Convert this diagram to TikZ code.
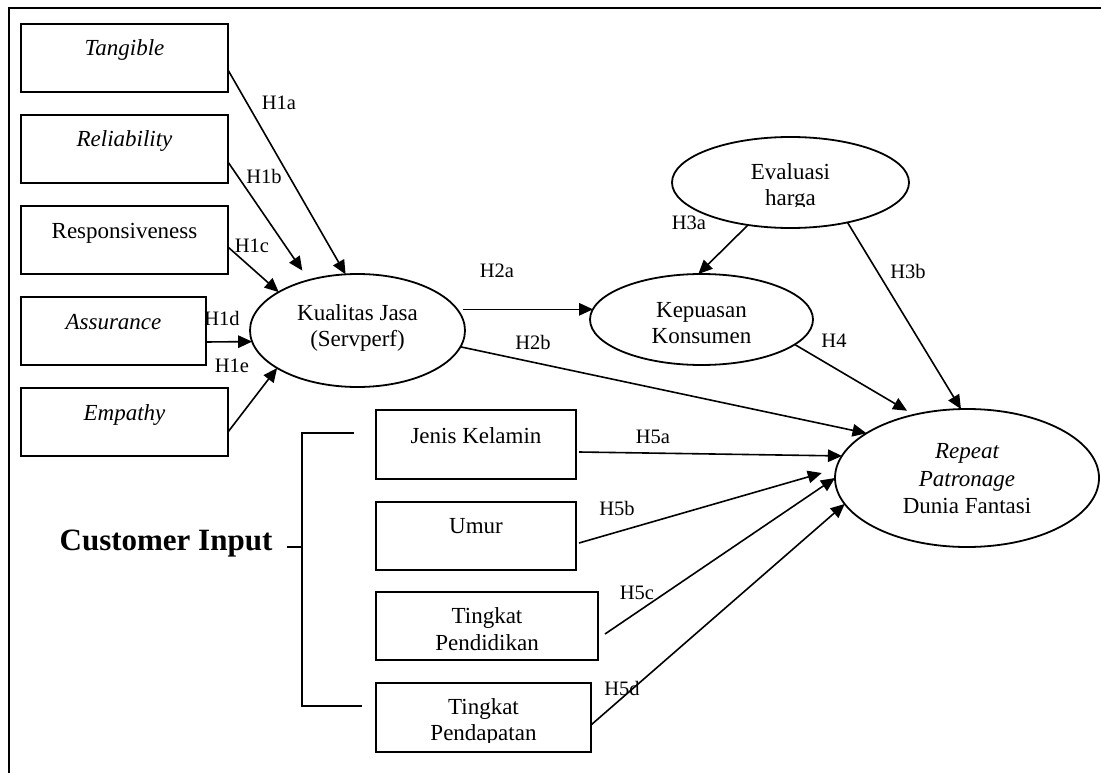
\documentclass[tikz,border=0pt]{standalone}
\usepackage{fontspec}
\setmainfont{Liberation Serif}
\usetikzlibrary{shapes.geometric,arrows.meta}
\begin{document}
\begin{tikzpicture}[x=1pt,y=-1pt,
  txt/.style={font=\fontsize{23}{26}\selectfont, inner sep=0pt, anchor=base},
  itxt/.style={font=\fontsize{23}{26}\selectfont\itshape, inner sep=0pt, anchor=base},
  lab/.style={font=\fontsize{20.5}{24}\selectfont, inner sep=0pt},
  boxs/.style={draw, line width=1.8pt, inner sep=0pt, outer sep=0pt},
  ell/.style={draw, ellipse, line width=1.8pt, inner sep=0pt, outer sep=0pt},
  arr/.style={-{Triangle[length=14pt,width=12.5pt]}, line width=1.6pt},
  brk/.style={line width=1.7pt}]
\useasboundingbox (0,0) rectangle (1101,773);
% frame
\draw[line width=2pt] (8.5,773) -- (8.5,8.5) -- (1101,8.5);

% left boxes
\node[boxs, minimum width=207pt, minimum height=68pt] (tang) at (124.5,58) {};
\node[itxt] (tangt) at (124.5,56) {Tangible};
\node[boxs, minimum width=207pt, minimum height=68pt] (rel) at (124.5,149) {};
\node[itxt] (relt) at (124.5,147) {Reliability};
\node[boxs, minimum width=207pt, minimum height=68pt] (resp) at (124.5,240) {};
\node[txt] (respt) at (124.5,238) {Responsiveness};
\node[boxs, minimum width=185pt, minimum height=68pt] (assur) at (113.5,331) {};
\node[itxt] (assurt) at (113.5,329) {Assurance};
\node[boxs, minimum width=207pt, minimum height=68pt] (emp) at (124.5,422) {};
\node[itxt] (empt) at (124.5,420) {Empathy};

% ellipses
\node[ell, minimum width=215pt, minimum height=113pt] (kual) at (357.5,330.5) {};
\node[txt] (kualt1) at (357.5,320) {Kualitas Jasa};
\node[txt] (kualt2) at (357.5,346) {(Servperf)};
\node[ell, minimum width=223pt, minimum height=91pt] (kep) at (701.5,319.5) {};
\node[txt] (kept1) at (701.5,317) {Kepuasan};
\node[txt] (kept2) at (701.5,343) {Konsumen};
\node[ell, minimum width=237pt, minimum height=91pt] (eval) at (790.5,182.5) {};
\node[txt] (evalt1) at (790.5,179) {Evaluasi};
\begin{scope}
\clip (720,184) rectangle (860,206.5);
\node[txt] (evalt2) at (790.5,205) {harga};
\end{scope}
\node[ell, minimum width=264pt, minimum height=138pt] (rep) at (967,478) {};
\node[itxt] (rept1) at (967,458) {Repeat};
\node[itxt] (rept2) at (967,486) {Patronage};
\node[txt] (rept3) at (967,513) {Dunia Fantasi};

% bottom boxes
\node[boxs, minimum width=200pt, minimum height=69pt] (jk) at (476,444.5) {};
\node[txt] (jkt) at (476,443) {Jenis Kelamin};
\node[boxs, minimum width=200pt, minimum height=68pt] (umur) at (476,536) {};
\node[txt] (umurt) at (476,533) {Umur};
\node[boxs, minimum width=222pt, minimum height=68pt] (pend) at (487,626) {};
\node[txt] (pendt1) at (487,623) {Tingkat};
\node[txt] (pendt2) at (487,650) {Pendidikan};
\node[boxs, minimum width=215pt, minimum height=69pt] (pdpt) at (483.5,717.5) {};
\node[txt] (pdptt1) at (483.5,714) {Tingkat};
\begin{scope}
\clip (400,720) rectangle (570,742);
\node[txt] (pdptt2) at (483.5,740) {Pendapatan};
\end{scope}

% bracket and customer input
\draw[brk] (354,433) -- (302,433) -- (302,706) -- (362,706);
\draw[brk] (287,547) -- (302,547);
\node[font=\fontsize{31}{36}\selectfont\bfseries, inner sep=0pt, anchor=base] (cust) at (166,550) {Customer Input};

% connectors
\coordinate (h2s) at ([xshift=6pt]kual.12.2);
\draw[arr] ([yshift=-12pt]tang.east) -- (kual.102.3);
\draw[arr, shorten >=11.5pt] ([yshift=-13pt]rel.east) -- (kual.134.5);
\draw[arr] ([yshift=-7pt]resp.east) -- (kual.154.7);
\draw[arr] ([yshift=-11pt]assur.east) -- (kual.186.3);
\draw[arr] ([yshift=-10pt]emp.east) -- (kual.205.3);
\draw[arr] (h2s) -- ([xshift=3pt]h2s -| kep.west);
\draw[arr] (kual.-9) -- (rep.156.6);
\draw[arr] (eval.225.6) -- (kep.94.3);
\draw[arr] (eval.-35.5) -- (rep.95.8);
\draw[arr, shorten >=8pt] (kep.-15) -- (rep.130.6);
\draw[arr] ([xshift=3pt,yshift=-7.5pt]jk.east) -- (rep.170);
\draw[arr, shorten >=15pt] ([xshift=3pt,yshift=-7pt]umur.east) -- (rep.176.1);
\draw[arr] ([xshift=7pt,yshift=-8pt]pend.east) -- (rep.180.9);
\draw[arr] ([yshift=-7.5pt]pdpt.east) -- (rep.192.7);

% labels
\node[lab] (l1a) at (279,103) {H1a};
\node[lab] (l1b) at (264,176) {H1b};
\node[lab] (l1c) at (252,246) {H1c};
\node[lab] (l1d) at (222,318) {H1d};
\node[lab] (l1e) at (232,366) {H1e};
\node[lab] (l2a) at (497,271) {H2a};
\node[lab] (l2b) at (533,342) {H2b};
\node[lab] (l3a) at (689,223) {H3a};
\node[lab] (l3b) at (908,271) {H3b};
\node[lab] (l4) at (834,341) {H4};
\node[lab] (l5a) at (653,437) {H5a};
\node[lab] (l5b) at (617,508) {H5b};
\node[lab] (l5c) at (637,593) {H5c};
\node[lab] (l5d) at (622,688) {H5d};
\end{tikzpicture}
\end{document}
